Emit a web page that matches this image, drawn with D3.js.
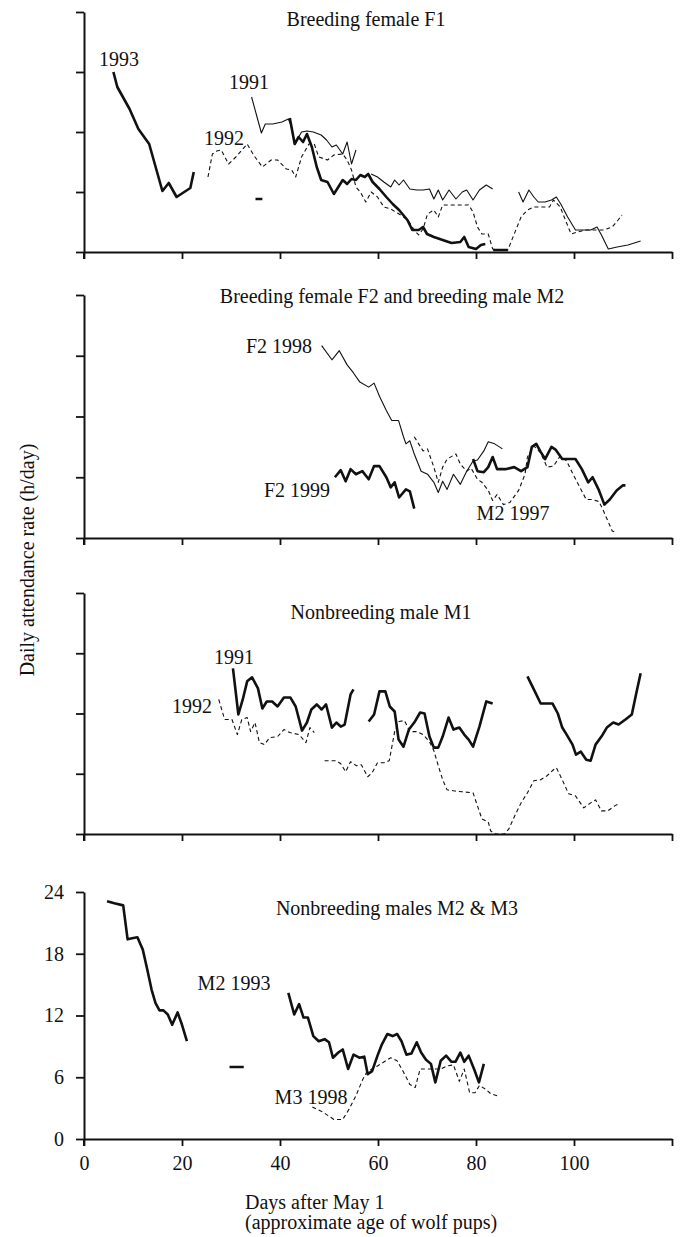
<!DOCTYPE html>
<html>
<meta charset="utf-8">
<style>
    body { margin: 0; background: #fff; }
    svg { display: block; }
    text { font-family: "Liberation Serif", "Times New Roman", serif; fill: #111; }
</style>
<body>
<svg width="681" height="1237"></svg>
<script src="https://d3js.org/d3.v7.min.js"></script>
<script>

    // ---- data: [day after May 1, hours/day]; null marks a gap in the record ----
    let dayTicks = [0, 20, 40, 60, 80, 100, 120];
    let hourTicks = [0, 6, 12, 18, 24];

    // Breeding female F1
    let f1_1993 = [[6,18.0],[6.8,16.5],[9.3,14.3],[11.1,12.3],[13.3,10.8],[16,6.1],[17.3,6.9],[18.9,5.5],[21.7,6.4],[22.4,8.0], null,
        [35,5.3],[36.4,5.3], null,
        [42,13.4],[43,10.8],[43.8,11.5],[44.7,11.0],[45.5,11.8],[46.5,10.5],[47.5,8.5],[48.4,7.2],[49.7,7.0],[51,5.8],[51.9,6.5],[52.8,7.2],[53.7,6.8],[54.6,7.3],[55.5,7.2],[56.4,7.7],[57.3,7.5],[58,7.8],[58.9,7.0],[60.3,6.3],[61.7,5.5],[63,4.8],[64.3,4.2],[66,3.2],[67,2.2],[68.3,2.2],[69.2,2.5],[70,1.8],[71.4,1.5],[73.2,1.2],[75,0.9],[76.8,1.0],[77.6,1.5],[78.5,0.5],[80,0.3],[81,0.7],[81.9,0.8], null,
        [83.5,0.2],[86.5,0.2]];
    let f1_1991 = [[34.2,15.5],[36.2,11.9],[37,12.8],[38.5,12.8],[40.4,13.0],[41.7,13.3],[42.4,12.5],[43,10.8],[44.4,12],[45.5,12.1],[46.8,12.0],[48.4,11.7],[49.5,11.2],[50.6,10.5],[51.5,10.7],[52.8,9.8],[53.7,11],[54.6,8.8],[55.5,10.2], null,
        [58.6,7.8],[59.9,7.5],[61.2,7.0],[62.6,6.5],[63.4,7.2],[64.3,6.7],[65.2,7.2],[66.5,6.3],[67.9,6.2],[69.2,6.2],[70.5,6.3],[71.4,5.3],[72.3,6.2],[73.2,5.2],[74.5,6.2],[75.9,5.3],[77.2,6.0],[78.1,6.2],[79.4,5.2],[80.7,6.2],[82.1,6.7],[83.4,6.3], null,
        [88.7,6.0],[89.6,5.0],[90.8,6.2],[91.8,5.5],[92.7,5.0],[94.1,5.0],[95.4,5.2],[96.4,5.5],[97.3,4.8],[98.7,3.5],[100.3,2.2],[101.6,2.2],[103.4,2.2],[104.7,2.5],[105.6,1.7],[107,0.3],[108.8,0.5],[111,0.7],[113.6,1.1]];
    let f1_1992 = [[25.3,7.5],[26.2,9.8],[27.1,10.1],[28,10.2],[29.5,8.8],[31,9.5],[33.3,10.8],[34.6,9.7],[36.4,8.5],[38.2,9.2],[39.5,9.2],[41.3,8.3],[42.4,8.2],[43.2,7.5],[44.4,9.5],[45.9,10.8],[47,10.8],[47.9,9.5],[49.7,9.2],[51,9.7],[52.8,9.8],[53.7,9.2],[54.6,8.2],[55.5,6.5],[56.4,6.0],[57.5,5.0],[58.6,6.0],[59.9,5.5],[61.2,4.5],[62.6,4.3],[64.3,3.8],[66.1,3.2],[67.4,2.2],[68.3,1.7],[69.2,2.3],[70.1,3.8],[71.4,4.2],[72.3,3.5],[73.2,4.7],[75,4.7],[76.8,4.7],[78.5,4.7],[79.4,4.0],[80.3,2.5],[81.2,1.8],[82.5,1.8],[83.4,0.3],[85.1,0.2],[86.5,0.2],[87.8,1.8],[89.2,3.5],[90.5,4.2],[91.8,4.5],[93.6,4.5],[95,4.5],[95.8,5.2],[97.2,4.5],[98,3.5],[99.4,1.8],[100.7,2.0],[102.5,2.2],[104.3,2.2],[106.1,2.2],[107.8,2.5],[109,3.2],[109.8,3.7]];

    // Breeding female F2 and breeding male M2
    let f2_1998 = [[48.5,19.0],[50.6,17.6],[52.1,18.5],[53.7,17.1],[55,16.3],[56.3,15.4],[58.1,14.9],[59.2,15.3],[60.3,14.0],[61.7,12.6],[62.8,11.6],[64.2,11.6],[65.2,10.0],[65.7,9.3],[66.5,9.6],[67.4,8.3],[68.8,6.6],[70.1,6.3],[71.4,5.5],[72.3,4.5],[73.2,5.6],[74.1,4.8],[75.4,6.3],[76.8,5.3],[78.1,6.6],[79.4,7.6],[80.3,7.7],[81.6,8.6],[82.5,9.5],[83.8,9.3],[85.4,8.8]];
    let f2_1999 = [[51.2,6.0],[52.4,6.7],[53.4,5.6],[54.4,6.8],[55.5,6.3],[56.8,6.6],[58.1,5.8],[59.2,7.1],[60.3,7.1],[61.7,6.0],[62.6,5.0],[63.4,5.5],[64.3,4.0],[65.7,4.8],[66.5,4.6],[67.4,2.9], null,
        [79.4,7.8],[80.3,6.6],[81.6,6.5],[82.5,7.0],[83.4,8.0],[84.3,6.8],[86,6.8],[87.8,7.0],[89.2,6.6],[90.5,7.0],[91.4,9.0],[92.3,9.3],[93.2,8.5],[94.1,7.8],[95.4,9.0],[96.3,8.7],[97.6,7.8],[99,7.8],[100.3,7.8],[101.6,6.8],[102.9,5.5],[103.8,6.0],[105.1,4.7],[106.2,3.3],[107.3,3.8],[108.7,4.7],[110,5.2],[110.5,5.2]];
    let m2_1997 = [[67.4,10.0],[68.3,9.3],[69.2,8.6],[70.1,8.8],[71.4,7.0],[72.3,5.5],[73.2,7.0],[74.1,7.8],[75.9,8.3],[76.8,7.3],[78.1,6.6],[79,6.9],[80.3,5.8],[81.2,5.5],[82.5,4.7],[83.4,3.7],[84.3,4.3],[85.6,3.3],[86.9,3.5],[88.7,4.7],[90,6.3],[90.5,8.0],[91.8,9.1],[93.2,8.4],[94.5,7.0],[95.8,7.1],[97.2,8.1],[98.5,7.6],[99.8,6.3],[101.2,5.0],[102.5,3.8],[103.8,3.8],[105.1,3.6],[106,2.7],[106.9,1.7],[107.8,0.7],[108.7,0.5]];

    // Nonbreeding male M1
    let m1_1991 = [[30.4,16.5],[31.5,11.9],[32.4,13.4],[33.3,15.2],[34.3,15.6],[35.5,14.5],[36.4,12.5],[37.3,13.2],[38.4,13.2],[39.5,12.7],[40.8,13.6],[42.1,13.6],[43.2,12.7],[44.5,10.3],[45.5,11.1],[46.4,12.4],[47.5,12.9],[48.5,12.4],[49.4,12.9],[50.6,10.6],[51.5,11.1],[52.4,10.7],[53.2,10.9],[54.4,13.9],[55,14.4], null,
        [58.1,11.2],[59.2,11.9],[60.3,14.2],[61.5,14.2],[62.4,12.7],[63.4,12.2],[64.2,9.4],[65.2,8.7],[66.3,10.4],[67.4,11.1],[68.6,12.1],[69.5,12.0],[70.5,9.7],[71.4,8.6],[72.3,8.6],[73.2,9.7],[74.4,11.6],[75.4,10.4],[76.6,10.6],[77.6,9.9],[78.5,9.4],[79.4,8.7],[80.7,10.7],[82.1,13.2],[83.4,13.0], null,
        [90.5,15.7],[91.8,14.4],[93.2,13.0],[94.5,13.0],[95.6,13.0],[96.7,12.0],[97.6,10.6],[98.5,9.9],[99.7,8.9],[100.4,7.9],[101.4,8.2],[102.5,7.4],[103.4,7.3],[104.4,8.9],[105.6,9.7],[106.7,10.6],[108,11.1],[109.1,10.9],[110.5,11.4],[111.8,11.9],[112.7,14.0],[113.6,16.0]];
    let m1_1992 = [[27.5,13.4],[28.7,11.4],[30.2,11.4],[31.3,9.9],[32.2,11.4],[33.3,11.6],[34,10.2],[34.9,11.1],[35.8,9.1],[36.8,8.9],[37.9,9.6],[39.5,9.7],[40.8,10.4],[42,10.1],[43.9,9.9],[45.3,9.1],[46.1,10.6],[47,10.1], null,
        [49.1,7.3],[50.3,7.3],[51.5,7.3],[52.4,7.0],[53.4,6.2],[54.4,7.2],[55.6,6.8],[56.6,6.9],[57.9,5.7],[58.8,6.1],[59.9,7.1],[61.2,7.1],[62.3,7.3],[63.4,10.2],[64.3,11.2],[65.4,11.3],[66.5,10.2],[67.9,10.2],[69.2,9.9],[70.5,9.2],[71.4,8.3],[72.3,6.8],[73.2,5.4],[74.1,4.4],[75.4,4.3],[77.2,4.2],[79.4,4.1],[80.3,2.8],[81.2,1.5],[82.5,1.2],[83,0.3],[84,0],[85.8,0],[86.7,0.5],[87.8,1.7],[89.2,3.1],[90.5,4.1],[91.8,5.3],[93.2,5.4],[94.5,5.8],[95.8,6.4],[96.4,6.6],[97.6,5.4],[98.9,4.0],[100.3,3.8],[102,2.6],[103.4,3.1],[104.4,3.4],[105.6,2.3],[106.9,2.3],[108.3,2.8],[109.1,3.0]];

    // Nonbreeding males M2 & M3
    let m2_1993 = [[4.7,23.1],[6.2,22.9],[8,22.7],[8.9,19.4],[9.8,19.5],[10.9,19.6],[12,18.4],[12.9,16.5],[13.8,14.5],[14.6,13.2],[15.4,12.5],[16.2,12.5],[17.1,12.1],[18,11.1],[19.1,12.3],[20,11.1],[21,9.5], null,
        [29.7,7.0],[32.6,7.0], null,
        [41.7,14.2],[42.9,12.1],[43.9,13.1],[44.8,11.8],[45.7,11.8],[46.8,10.0],[47.9,9.5],[49.1,9.7],[50,9.4],[50.8,7.9],[51.9,8.4],[52.8,8.7],[53.9,6.8],[55,8.2],[56.2,7.9],[57.2,8.0],[57.9,6.3],[58.8,6.6],[59.9,8.1],[60.8,9.2],[61.9,10.2],[63,10.0],[63.9,10.2],[64.8,9.5],[65.8,8.2],[66.8,8.3],[67.9,9.4],[68.8,8.4],[69.8,7.7],[70.8,7.3],[71.7,5.5],[72.8,7.6],[73.9,8.1],[75,7.5],[75.8,7.5],[76.8,8.4],[77.6,7.5],[78.5,8.1],[79.6,6.8],[80.6,5.5],[81.6,7.3]];
    let m3_1998 = [[46.6,3.1],[48.8,2.6],[51,1.9],[52.8,1.9],[54.1,2.9],[55.5,4.2],[56.8,5.7],[57.7,6.5],[59.9,7.1],[62.6,7.9],[63.9,7.6],[65.2,6.5],[66.5,5.3],[67.6,5.0],[68.6,6.8],[70.1,6.8],[71.5,6.8],[72.8,6.8],[74.1,7.1],[75.4,7.2],[76.6,5.6],[77.6,6.8],[78.7,4.5],[79.8,4.5],[80.7,5.2],[82.1,4.8],[83,4.4],[84.3,4.2]];

    let svg = d3.select("svg");

    let x = d3.scaleLinear().domain([0, 120]).range([84, 672]);

    let panels = [
        {top: 12, bottom: 252, title: "Breeding female F1", tx: 366, ty: 26,
         series: [{d: f1_1993, k: "thick"}, {d: f1_1991, k: "thin"}, {d: f1_1992, k: "dash"}],
         labels: [{t: "1993", x: 119, y: 66}, {t: "1991", x: 249, y: 89}, {t: "1992", x: 224, y: 145}]},
        {top: 295, bottom: 538, title: "Breeding female F2 and breeding male M2", tx: 392, ty: 303,
         series: [{d: f2_1998, k: "thin"}, {d: m2_1997, k: "dash"}, {d: f2_1999, k: "thick"}],
         labels: [{t: "F2 1998", x: 279, y: 353}, {t: "F2 1999", x: 297, y: 497}, {t: "M2 1997", x: 513, y: 520}]},
        {top: 593, bottom: 834, title: "Nonbreeding male M1", tx: 381, ty: 619,
         series: [{d: m1_1991, k: "thick"}, {d: m1_1992, k: "dash"}],
         labels: [{t: "1991", x: 234, y: 664}, {t: "1992", x: 192, y: 713}]},
        {top: 892, bottom: 1139, title: "Nonbreeding males M2 & M3", tx: 397, ty: 915,
         series: [{d: m2_1993, k: "thick"}, {d: m3_1998, k: "dash"}],
         labels: [{t: "M2 1993", x: 234, y: 990}, {t: "M3 1998", x: 311, y: 1104}]}
    ];

    let styles = {
        thick: {w: 2.6, dash: null},
        thin: {w: 1.1, dash: null},
        dash: {w: 1.1, dash: "4,3"}
    };

    panels.forEach(function (p, i) {
        let last = i === panels.length - 1;
        let y = d3.scaleLinear().domain([0, 24]).range([p.bottom, p.top]);
        let g = svg.append("g");

        let ya = g.append("g")
            .attr("transform", "translate(" + x(0) + ",0)")
            .call(d3.axisLeft(y).tickValues(hourTicks).tickSize(8).tickSizeOuter(0).tickPadding(12)
                .tickFormat(last ? d3.format("d") : function () { return ""; }));
        let xa = g.append("g")
            .attr("transform", "translate(0," + p.bottom + ")")
            .call(d3.axisBottom(x).tickValues(dayTicks).tickSize(7).tickSizeOuter(0).tickPadding(10)
                .tickFormat(last ? function (d) { return d === 120 ? "" : d; } : function () { return ""; }));
        [ya, xa].forEach(function (a) {
            a.select(".domain").attr("stroke", "#111").attr("stroke-width", 2);
            a.selectAll(".tick line").attr("stroke", "#111").attr("stroke-width", 1.8);
            a.selectAll("text").attr("font-size", 20).attr("font-family", "Liberation Serif").attr("fill", "#111");
        });
        // axis line runs a little past the origin
        g.append("line").attr("x1", x(0)).attr("x2", x(0))
            .attr("y1", p.bottom).attr("y2", p.bottom + 7)
            .attr("stroke", "#111").attr("stroke-width", 2);

        let line = d3.line()
            .defined(function (d) { return d !== null; })
            .x(function (d) { return x(d[0]); })
            .y(function (d) { return y(d[1]); });

        p.series.forEach(function (s) {
            g.append("path")
                .datum(s.d)
                .attr("d", line)
                .attr("fill", "none")
                .attr("stroke", "#111")
                .attr("stroke-width", styles[s.k].w)
                .attr("stroke-linejoin", "round")
                .attr("stroke-dasharray", styles[s.k].dash);
        });

        g.append("text")
            .attr("x", p.tx).attr("y", p.ty)
            .attr("text-anchor", "middle")
            .attr("font-size", 20)
            .text(p.title);

        p.labels.forEach(function (l) {
            g.append("text")
                .attr("x", l.x).attr("y", l.y)
                .attr("text-anchor", "middle")
                .attr("font-size", 20)
                .text(l.t);
        });
    });

    svg.append("text")
        .attr("transform", "translate(34,560) rotate(-90)")
        .attr("text-anchor", "middle")
        .attr("font-size", 20)
        .text("Daily attendance rate (h/day)");

    svg.append("text")
        .attr("x", 245).attr("y", 1209)
        .attr("font-size", 20)
        .text("Days after May 1");

    svg.append("text")
        .attr("x", 245).attr("y", 1229)
        .attr("font-size", 20)
        .text("(approximate age of wolf pups)");

</script>
</body>
</html>
